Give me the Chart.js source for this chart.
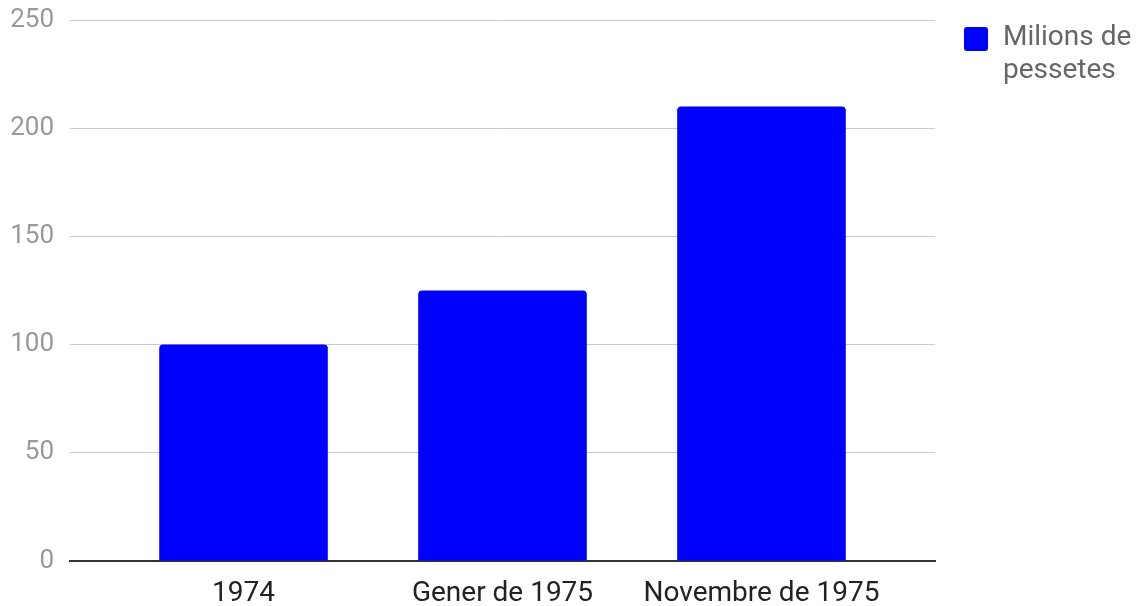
<!DOCTYPE html>
<html><head><meta charset="utf-8">
<script src="https://cdn.jsdelivr.net/npm/chart.js@4"></script>
<style>html,body{margin:0;padding:0;background:#fff}#wrap{width:1141px;height:606px;position:relative}</style>
</head><body><div id="wrap"><canvas id="c"></canvas></div>
<script>
const categories = ['1974', 'Gener de 1975', 'Novembre de 1975'];
const values = [100, 125, 210];
const seriesLabel = ['Milions de', 'pessetes'];
const yMin = 0, yMax = 250, yStep = 50;
const barColor = '#0000ff';

const sideLegend = {
  id: 'sideLegend',
  afterDraw(chart) {
    const {ctx, chartArea} = chart;
    const ds = chart.data.datasets[0];
    const x = chartArea.right + 29, y = chartArea.top + 7;
    ctx.save();
    ctx.fillStyle = ds.backgroundColor;
    ctx.beginPath();
    ctx.roundRect(x, y, 24, 24, 3);
    ctx.fill();
    ctx.fillStyle = '#666666';
    ctx.font = '28px Roboto';
    ctx.textBaseline = 'alphabetic';
    seriesLabel.forEach((t, i) => ctx.fillText(t, x + 39, chartArea.top + 25 + i * 33));
    ctx.restore();
  }
};

new Chart(document.getElementById('c'), {
  type: 'bar',
  data: {
    datasets: [{
      label: seriesLabel.join(' '),
      data: values.map((v, i) => ({x: i, y: v})),
      backgroundColor: barColor,
      borderRadius: 4,
      borderSkipped: 'start',
      categoryPercentage: 1,
      barPercentage: 0.651
    }]
  },
  options: {
    responsive: true,
    maintainAspectRatio: false,
    animation: false,
    layout: {padding: {top: 20, right: 206, left: 0, bottom: 0}},
    plugins: {legend: {display: false}, tooltip: {enabled: false}},
    scales: {
      x: {
        type: 'linear',
        offset: false,
        bounds: 'data',
        min: -0.67, max: categories.length - 1 + 0.67,
        grid: {display: false, drawTicks: false},
        border: {display: true, color: '#333333', width: 2},
        afterBuildTicks: s => { s.ticks = categories.map((_, i) => ({value: i})); },
        ticks: {color: '#222222', font: {family: 'Roboto', size: 28}, padding: 16, maxRotation: 0, autoSkip: false,
                callback: v => categories[v]},
        afterFit: s => { s.height = 45; s.paddingLeft = 0; s.paddingRight = 0; }
      },
      y: {
        min: yMin, max: yMax,
        grid: {color: ctx => ctx.tick && ctx.tick.value === 0 ? 'rgba(0,0,0,0)' : '#cccccc', lineWidth: 1, drawTicks: false},
        border: {display: false},
        ticks: {stepSize: yStep, color: '#999999', font: {family: 'Roboto', size: 26}, padding: 16},
        afterFit: s => { s.width = 70; s.paddingTop = 0; s.paddingBottom = 0; }
      }
    }
  },
  plugins: [sideLegend]
});
</script>
</body></html>
